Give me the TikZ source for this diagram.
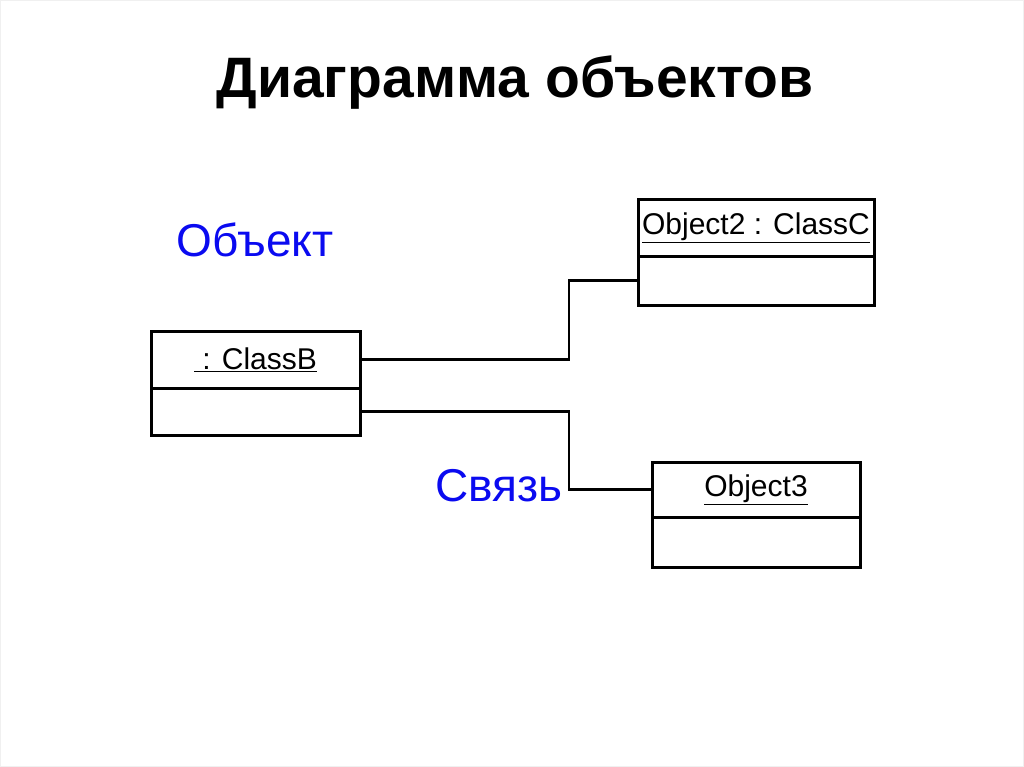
\documentclass[tikz,border=0pt]{standalone}
\usepackage{fontspec}
\setmainfont{Liberation Sans}
\usetikzlibrary{positioning}
\definecolor{lblblue}{RGB}{10,10,240}

\tikzset{
  objhead/.style={draw, line width=3pt, inner sep=0pt, outer sep=0pt, anchor=north west, font=\fontsize{30}{32}\selectfont},
  objbody/.style={draw, line width=3pt, inner sep=0pt, outer sep=0pt, anchor=north},
  link/.style={line width=2.4pt},
  lbl/.style={text=lblblue, anchor=base, font=\fontsize{46}{50}\selectfont}
}

\begin{document}
\begin{tikzpicture}[x=1pt,y=-1pt]
    \useasboundingbox (0,0) rectangle (1024,767);
    \draw[black!6] (0.5,0.5) rectangle (1023.5,766.5);

    % заголовок
    \node[anchor=base, font=\fontsize{57}{60}\selectfont\bfseries] (title) at (515,98) {Диаграмма объектов};

    % объекты
    \node[objhead, minimum width=209pt, minimum height=57pt] (bh) at (151,331) {\underline{\ : ClassB}};
    \node[objbody, minimum width=209pt, minimum height=47pt] (bb) at (bh.south) {};

    \node[objhead, minimum width=236pt, minimum height=56pt] (ch) at (638,200) {\underline{Object2 : ClassC}};
    \node[objbody, minimum width=236pt, minimum height=49pt] (cb) at (ch.south) {};

    \node[objhead, minimum width=208pt, minimum height=55pt] (dh) at (652,462) {\underline{Object3}};
    \node[objbody, minimum width=208pt, minimum height=50pt] (db) at (dh.south) {};

    % связи
    \coordinate (bend) at (569,0);
    \draw[link] (bh.east) -| (bend |- cb.west) -- (cb.west);
    \draw[link] (bb.east) -| (bend |- dh.west) -- (dh.west);

    % подписи
    \node[lbl] (objlbl) at (255,256) {Объект};
    \node[lbl] (linklbl) at (499,501) {Связь};
  \end{tikzpicture}
\end{document}
